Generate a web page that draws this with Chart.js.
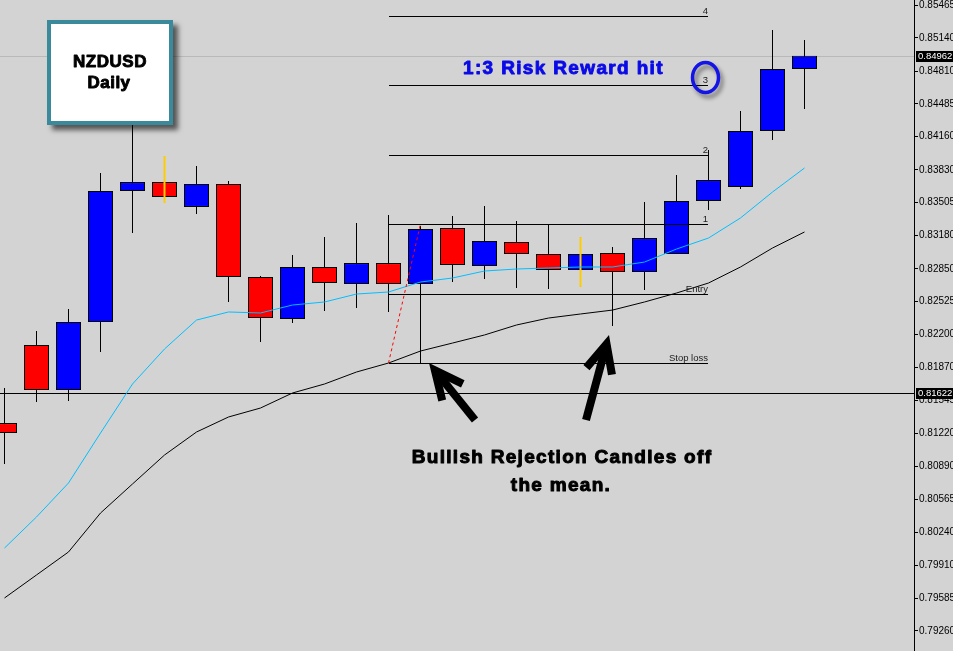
<!DOCTYPE html>
<html>
<head>
<meta charset="utf-8">
<title>NZDUSD Daily</title>
<script src="https://cdn.jsdelivr.net/npm/chart.js@4.4.0/dist/chart.umd.min.js"></script>
<style>
  html, body { margin: 0; padding: 0; background: #d3d3d3; }
  #wrap { width: 953px; height: 651px; }
</style>
</head>
<body>
<div id="wrap"><canvas id="chart"></canvas></div>
<script>
// daily candles, one per bar slot
const days = [0, 1, 2, 3, 4, 5, 6, 7, 8, 9, 10, 11, 12, 13, 14, 15, 16, 17, 18, 19, 20, 21, 22, 23, 24, 25];
const opens = [0.81321, 0.82095, 0.81649, 0.82323, 0.83621, 0.83710, 0.83463, 0.83691, 0.82769, 0.82352, 0.82868, 0.82699, 0.82907,
  0.82699, 0.83254, 0.82878, 0.83116, 0.82997, 0.82838, 0.83007, 0.82818, 0.82997, 0.83522, 0.83661, 0.84216, 0.84831];
const closes = [0.81222, 0.81649, 0.82323, 0.83621, 0.83710, 0.83562, 0.83691, 0.82769, 0.82362, 0.82868, 0.82709, 0.82907, 0.82699,
  0.83245, 0.82888, 0.83126, 0.82997, 0.82838, 0.82997, 0.82818, 0.83155, 0.83522, 0.83730, 0.84216, 0.84831, 0.84962];
const highs = [0.81668, 0.82233, 0.82451, 0.83800, 0.84340, 0.83968, 0.83869, 0.83720, 0.82779, 0.82987, 0.83165, 0.83304, 0.83383,
  0.83274, 0.83373, 0.83473, 0.83324, 0.83294, 0.83165, 0.83066, 0.83512, 0.83780, 0.84028, 0.84414, 0.85217, 0.85118];
const lows = [0.80915, 0.81530, 0.81540, 0.82025, 0.83205, 0.83502, 0.83393, 0.82521, 0.82124, 0.82313, 0.82432, 0.82461, 0.82422,
  0.81906, 0.82719, 0.82749, 0.82660, 0.82650, 0.82670, 0.82283, 0.82640, 0.82997, 0.83433, 0.83641, 0.84127, 0.84434];

// moving averages
const fastMA = [0.80082, 0.80390, 0.80727, 0.81222, 0.81708, 0.82055, 0.82342, 0.82422, 0.82412, 0.82491, 0.82521, 0.82600, 0.82620,
  0.82719, 0.82759, 0.82828, 0.82848, 0.82858, 0.82868, 0.82868, 0.82917, 0.83046, 0.83155, 0.83354, 0.83611, 0.83849];
const slowMA = [0.79587, 0.79815, 0.80043, 0.80429, 0.80717, 0.81004, 0.81232, 0.81381, 0.81470, 0.81619, 0.81708, 0.81827, 0.81916,
  0.82035, 0.82114, 0.82194, 0.82293, 0.82362, 0.82402, 0.82441, 0.82521, 0.82610, 0.82709, 0.82868, 0.83056, 0.83215];

// yellow doji markers
const markDays = [5, 18];
const markLows = [0.83502, 0.82670];
const markHighs = [0.83968, 0.83165];

// trade levels
const levelLabels = ['Stop loss', 'Entry', '1', '2', '3', '4'];
const levelPrices = [0.81916, 0.82600, 0.83294, 0.83978, 0.84672, 0.85356];
const levelFrom = 12;
const levelTo = 22;
const trendFrom = [12, 0.81916];
const trendTo = [13, 0.83294];

// axis
const yTicks = [0.85465, 0.85140, 0.84810, 0.84485, 0.84160, 0.83830, 0.83505, 0.83180, 0.82850, 0.82525,
  0.82200, 0.81870, 0.81545, 0.81220, 0.80890, 0.80565, 0.80240, 0.79910, 0.79585, 0.79260];
const lastPrice = 0.84962;
const markPrice = 0.81622;

const smallFont = '"Liberation Sans", Arial, sans-serif';
const boldFont = '"Liberation Sans", Arial, sans-serif';

function drawArrow(ctx, tipX, tipY, tailX, tailY) {
  const ang = Math.atan2(tailY - tipY, tailX - tipX);
  const w = 8, wing = 31, spread = 0.44;
  const back = (w / 2) / Math.sin(spread);
  const vx = tipX + Math.cos(ang) * back;
  const vy = tipY + Math.sin(ang) * back;
  ctx.lineWidth = w;
  ctx.strokeStyle = '#000';
  ctx.lineJoin = 'miter';
  ctx.miterLimit = 10;
  ctx.lineCap = 'butt';
  ctx.beginPath();
  ctx.moveTo(tailX, tailY);
  ctx.lineTo(vx, vy);
  ctx.stroke();
  ctx.beginPath();
  ctx.moveTo(vx + Math.cos(ang + spread) * wing, vy + Math.sin(ang + spread) * wing);
  ctx.lineTo(vx, vy);
  ctx.lineTo(vx + Math.cos(ang - spread) * wing, vy + Math.sin(ang - spread) * wing);
  ctx.stroke();
}

// bold text with a thin outline so it reads heavier
function heavyText(ctx, text, x, y, weight) {
  ctx.lineWidth = weight;
  ctx.strokeStyle = ctx.fillStyle;
  ctx.lineJoin = 'round';
  ctx.strokeText(text, x, y);
  ctx.fillText(text, x, y);
}

const overlay = {
  id: 'overlay',
  beforeDatasetsDraw(chart) {
    const { ctx, chartArea: a, scales: { y } } = chart;
    ctx.save();
    ctx.lineWidth = 1;
    [[lastPrice, '#b9b9b9'], [markPrice, '#000000']].forEach(([p, c]) => {
      const py = Math.round(y.getPixelForValue(p)) + 0.5;
      ctx.strokeStyle = c;
      ctx.beginPath();
      ctx.moveTo(a.left, py);
      ctx.lineTo(a.right, py);
      ctx.stroke();
    });
    ctx.restore();
  },
  afterDatasetsDraw(chart) {
    const { ctx, scales: { x, y } } = chart;
    const x0 = Math.round(x.getPixelForValue(levelFrom));
    const x1 = Math.round(x.getPixelForValue(levelTo)) - 1;
    ctx.save();

    // level lines with their labels
    ctx.lineWidth = 1;
    ctx.strokeStyle = '#000';
    ctx.fillStyle = '#222';
    ctx.font = '9.5px "Liberation Sans", sans-serif';
    ctx.textAlign = 'right';
    ctx.textBaseline = 'alphabetic';
    levelPrices.forEach((p, i) => {
      const py = Math.round(y.getPixelForValue(p)) + 0.5;
      ctx.beginPath();
      ctx.moveTo(x0, py);
      ctx.lineTo(x1, py);
      ctx.stroke();
      ctx.fillText(levelLabels[i], x1, py - 2.5);
    });

    // dotted trend line
    ctx.strokeStyle = '#ff0000';
    ctx.setLineDash([3, 3]);
    ctx.beginPath();
    ctx.moveTo(x.getPixelForValue(trendFrom[0]), y.getPixelForValue(trendFrom[1]));
    ctx.lineTo(x.getPixelForValue(trendTo[0]), y.getPixelForValue(trendTo[1]));
    ctx.stroke();
    ctx.setLineDash([]);

    // circle around the third target
    const cy = y.getPixelForValue(levelPrices[4]) - 7.5;
    ctx.save();
    ctx.shadowColor = 'rgba(0,0,0,0.45)';
    ctx.shadowBlur = 4;
    ctx.shadowOffsetX = 3;
    ctx.shadowOffsetY = 4;
    ctx.strokeStyle = '#1414e6';
    ctx.lineWidth = 3.5;
    ctx.beginPath();
    ctx.ellipse(x1 - 2.5, cy, 13, 15, 0, 0, Math.PI * 2);
    ctx.stroke();
    ctx.restore();

    ctx.fillStyle = '#0a0ae6';
    ctx.font = 'bold 19px ' + boldFont;
    ctx.letterSpacing = '1.35px';
    ctx.textAlign = 'left';
    heavyText(ctx, '1:3 Risk Reward hit', 463, 73.5, 0.9);

    // arrows at the two rejection candles
    const lx1 = x.getPixelForValue(13), ly1 = y.getPixelForValue(lows[13]);
    drawArrow(ctx, lx1 + 8.5, ly1 - 1, lx1 + 54.5, ly1 + 56);
    const lx2 = x.getPixelForValue(19), ly2 = y.getPixelForValue(lows[19]);
    drawArrow(ctx, lx2 - 3.5, ly2 + 9, lx2 - 26.5, ly2 + 94);

    ctx.fillStyle = '#000';
    ctx.font = 'bold 19px ' + boldFont;
    ctx.letterSpacing = '1.3px';
    ctx.textAlign = 'center';
    heavyText(ctx, 'Bullish Rejection Candles off', 562, 463, 1);
    heavyText(ctx, 'the mean.', 561, 491, 1);
    ctx.letterSpacing = '0px';
    ctx.restore();
  },
  afterDraw(chart) {
    const { ctx, scales: { y } } = chart;
    ctx.save();

    // price tags on the axis
    ctx.font = '9.5px ' + smallFont;
    ctx.textAlign = 'left';
    ctx.textBaseline = 'middle';
    [lastPrice, markPrice].forEach((p) => {
      const py = Math.round(y.getPixelForValue(p));
      ctx.fillStyle = '#000';
      ctx.fillRect(916, py - 5, 37, 11);
      ctx.fillStyle = '#fff';
      ctx.fillText(p.toFixed(5), 918, py + 0.5);
    });

    // symbol box
    ctx.save();
    ctx.shadowColor = 'rgba(0,0,0,0.6)';
    ctx.shadowBlur = 5;
    ctx.shadowOffsetX = 5;
    ctx.shadowOffsetY = 5;
    ctx.fillStyle = '#3b8a9c';
    ctx.fillRect(47, 20, 126, 105);
    ctx.restore();
    ctx.fillStyle = '#ffffff';
    ctx.fillRect(51, 24, 118, 97);
    ctx.fillStyle = '#000';
    ctx.font = 'bold 17px ' + boldFont;
    ctx.letterSpacing = '0.5px';
    ctx.textAlign = 'center';
    ctx.textBaseline = 'alphabetic';
    heavyText(ctx, 'NZDUSD', 110, 67, 0.9);
    heavyText(ctx, 'Daily', 109, 88, 0.9);
    ctx.letterSpacing = '0px';
    ctx.restore();
  }
};

const barCommon = {
  type: 'bar',
  grouped: false,
  barPercentage: 1,
  categoryPercentage: 1,
  inflateAmount: 0,
  borderSkipped: false
};

new Chart(document.getElementById('chart'), {
  type: 'bar',
  data: {
    datasets: [
      {
        type: 'line',
        label: 'Fast MA',
        data: days.map((d, i) => ({ x: d, y: fastMA[i] })),
        borderColor: '#00bfff',
        borderWidth: 1,
        pointRadius: 0,
        tension: 0,
        order: 0
      },
      {
        type: 'line',
        label: 'Slow MA',
        data: days.map((d, i) => ({ x: d, y: slowMA[i] })),
        borderColor: '#000000',
        borderWidth: 1,
        pointRadius: 0,
        tension: 0,
        order: 0
      },
      {
        ...barCommon,
        label: 'Marks',
        data: markDays.map((d, i) => ({ x: d, y: [markLows[i], markHighs[i]] })),
        backgroundColor: '#ffcc00',
        borderWidth: 0,
        maxBarThickness: 2,
        order: 1
      },
      {
        ...barCommon,
        label: 'Body',
        data: days.map((d, i) => ({ x: d, y: [opens[i], closes[i]] })),
        backgroundColor: days.map((d, i) => (closes[i] >= opens[i] ? '#0000ff' : '#ff0000')),
        borderColor: '#000000',
        borderWidth: 1,
        maxBarThickness: 25,
        order: 2
      },
      {
        ...barCommon,
        label: 'Wick',
        data: days.map((d, i) => ({ x: d, y: [lows[i], highs[i]] })),
        backgroundColor: '#000000',
        borderWidth: 0,
        maxBarThickness: 1,
        order: 3
      }
    ]
  },
  options: {
    responsive: true,
    maintainAspectRatio: false,
    animation: false,
    layout: { padding: 0 },
    plugins: { legend: { display: false }, tooltip: { enabled: false } },
    scales: {
      x: {
        type: 'linear',
        display: false,
        offset: false,
        min: -0.140625,
        max: 28.421875
      },
      y: {
        type: 'linear',
        position: 'right',
        bounds: 'data',
        min: 0.790614,
        max: 0.855146,
        afterBuildTicks: (scale) => {
          scale.ticks = yTicks.map((v) => ({ value: v }));
        },
        afterFit: (scale) => {
          scale.width = 39;
          scale.paddingTop = 0;
          scale.paddingBottom = 0;
        },
        ticks: {
          autoSkip: false,
          padding: 1,
          color: '#000',
          font: { family: smallFont, size: 10 },
          callback: (v) => Number(v).toFixed(5)
        },
        grid: { drawOnChartArea: false, drawTicks: true, tickLength: 4, tickColor: '#000', color: '#000' },
        border: { display: true, color: '#000', width: 1 }
      }
    }
  },
  plugins: [overlay]
});
</script>
</body>
</html>
